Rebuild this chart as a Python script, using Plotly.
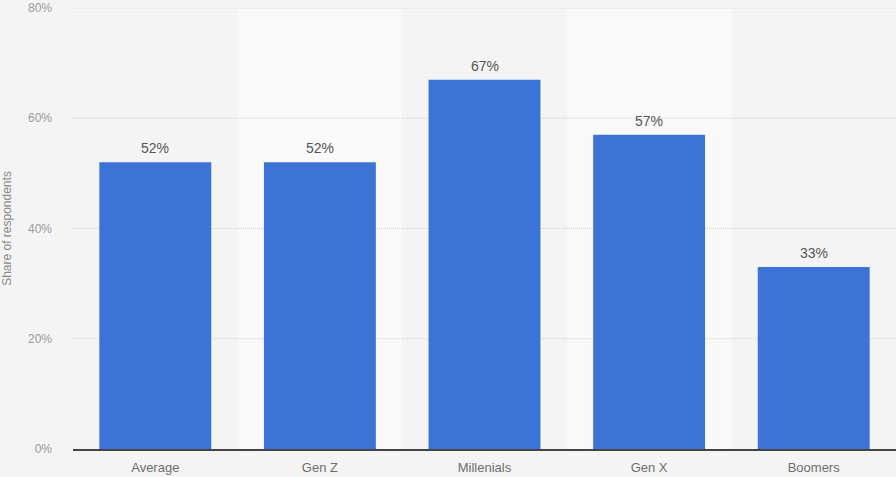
import plotly.graph_objects as go

categories = ["Average", "Gen Z", "Millenials", "Gen X", "Boomers"]
shares = [52, 52, 67, 57, 33]
y_ticks = [0, 20, 40, 60, 80]
y_tick_labels = ["0%", "20%", "40%", "60%", "80%"]

BAR_COLOR = "#3d73d6"
BG = "#f4f4f4"
BAND_LIGHT = "#f9f9f9"
GRID = "#cfcfcf"
FONT = "Liberation Sans, Arial, sans-serif"

fig = go.Figure()
fig.add_trace(go.Bar(
    x=list(range(len(categories))),
    y=shares,
    marker=dict(color=BAR_COLOR, line=dict(width=0)),
    width=0.68,
    hoverinfo="skip",
))

shapes = []
# alternating column bands
for i in range(len(categories)):
    if i % 2 == 1:
        shapes.append(dict(
            type="rect", xref="x", yref="paper",
            x0=i - 0.5, x1=i + 0.5, y0=0, y1=1,
            fillcolor=BAND_LIGHT, line=dict(width=0), layer="below",
        ))
# dotted grid lines drawn over the bands
for t in y_ticks[1:]:
    shapes.append(dict(
        type="line", xref="paper", yref="y",
        x0=0, x1=1, y0=t, y1=t,
        line=dict(color=GRID, width=1, dash="1px,1px"), layer="below",
    ))

# value labels above each bar
annotations = []
for i, v in enumerate(shares):
    annotations.append(dict(
        x=i, y=v, xref="x", yref="y", text=f"{v}%",
        showarrow=False, yanchor="middle", yshift=14,
        font=dict(family=FONT, size=14, color="#555555"),
    ))

fig.update_layout(
    width=896, height=477,
    margin=dict(l=73, r=0, t=8, b=28),
    paper_bgcolor=BG, plot_bgcolor=BG,
    showlegend=False,
    shapes=shapes,
    annotations=annotations,
    xaxis=dict(
        tickmode="array",
        tickvals=list(range(len(categories))),
        ticktext=categories,
        range=[-0.5, len(categories) - 0.5],
        showgrid=False, zeroline=False,
        showline=True, linecolor="#444444", linewidth=1.6,
        ticks="", ticklabelstandoff=6,
        tickfont=dict(family=FONT, size=13, color="#6e6e6e"),
        fixedrange=True, automargin=False,
        layer="above traces",
    ),
    yaxis=dict(
        range=[0, 80],
        tickmode="array", tickvals=y_ticks, ticktext=y_tick_labels,
        showgrid=False, zeroline=False, showline=False, ticks="",
        ticklabelstandoff=20,
        tickfont=dict(family=FONT, size=12, color="#9a9a9a"),
        title=dict(text="Share of respondents", standoff=13,
                   font=dict(family=FONT, size=12, color="#8a8a8a")),
        fixedrange=True, automargin=False,
    ),
)

fig.write_html("out.html")
